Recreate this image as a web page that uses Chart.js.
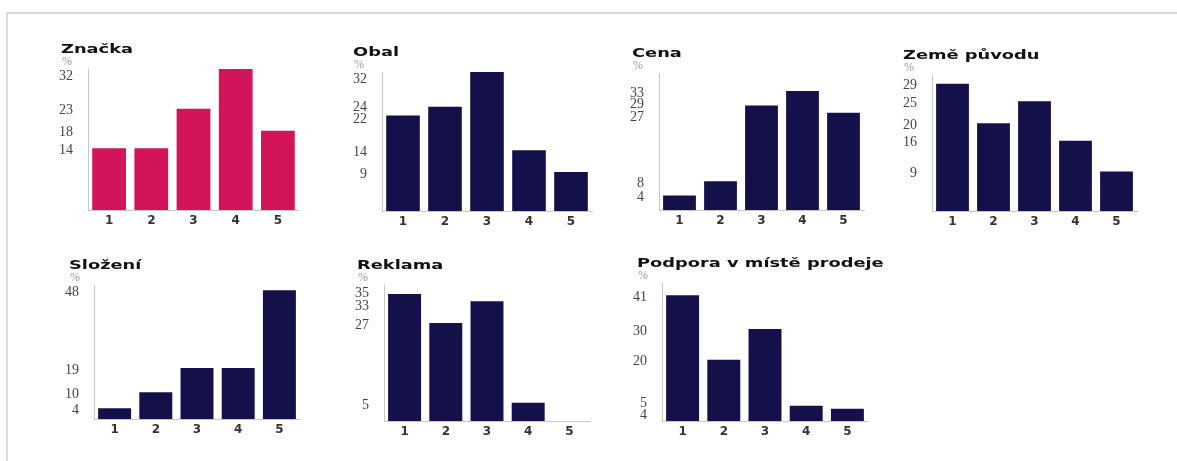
<!DOCTYPE html>
<html>
<head>
<meta charset="utf-8">
<script src="https://cdn.jsdelivr.net/npm/chart.js@4.4.1/dist/chart.umd.min.js"></script>
<style>
  body { margin: 0; background: #fff; }
  #frame {
    position: absolute; left: 6px; top: 12px; width: 1180px; height: 460px;
    border-top: 2px solid #d8d8d8; border-left: 2px solid #dcdcdc;
  }
  canvas { position: absolute; }
</style>
</head>
<body>
<div id="frame"></div>
<div id="charts"></div>
<script>
// answers 1-5 per question, in %
const categories = ['1', '2', '3', '4', '5']
const titles = ['Značka', 'Obal', 'Cena', 'Země původu', 'Složení', 'Reklama', 'Podpora v místě prodeje']
const znacka = [14, 14, 23, 32, 18]
const obal = [22, 24, 32, 14, 9]
const cena = [4, 8, 29, 33, 27]
const zemePuvodu = [29, 20, 25, 16, 9]
const slozeni = [4, 10, 19, 19, 48]
const reklama = [35, 27, 33, 5, 0]
const podpora = [41, 20, 30, 5, 4]
const series = [znacka, obal, cena, zemePuvodu, slozeni, reklama, podpora]
// top of each value axis
const yMax = [32, 32, 38, 31, 50, 37.5, 45]

const PINK = '#d4145a'
const NAVY = '#14114a'

// titleX, axisX, axisRight, axisTop, baseline
const boxes = [
  [61, 88, 299, 69, 210],
  [353, 382, 592, 72, 211],
  [632, 659, 864, 73, 210],
  [903, 932, 1137, 75, 211],
  [69, 94, 300, 285, 419],
  [357, 384, 590, 285, 421],
  [637, 662, 868, 283, 421],
]
const PAD_TOP = 32
const X_H = 26
const Y_W = 46
const GAP = 12.5

// y labels sit at the bar values, nudged apart where they would collide
function spreadTicks(values, max, plotH) {
  const k = plotH / max
  const vals = [...new Set(values)].filter(v => v > 0).sort((a, b) => b - a)
  const ys = vals.map(v => plotH - v * k)
  for (let i = 1; i < ys.length; i++) {
    const gap = ys[i] - ys[i - 1]
    if (gap < GAP) {
      const d = (GAP - gap) / 2
      ys[i - 1] -= d
      ys[i] += d
    }
  }
  if (ys[0] < 5) {
    ys[0] = 5
    for (let i = 1; i < ys.length; i++) {
      if (ys[i] - ys[i - 1] < GAP) ys[i] = Math.max(ys[i], ys[i - 1] + GAP)
    }
  }
  return vals.map((v, i) => ({ value: (plotH - ys[i]) / k, shown: String(v) }))
}

function headerPlugin(text, x) {
  return {
    id: 'header',
    afterDraw(chart) {
      const ctx = chart.ctx
      const top = chart.chartArea.top
      ctx.save()
      ctx.fillStyle = '#111'
      ctx.font = 'bold 13px "DejaVu Sans", sans-serif'
      ctx.textBaseline = 'alphabetic'
      ctx.translate(x, top - 16)
      ctx.scale(1.37, 1)
      ctx.fillText(text, 0, 0)
      ctx.restore()
      ctx.save()
      ctx.fillStyle = '#9a9a9a'
      ctx.font = '12px "Liberation Serif", serif'
      ctx.textBaseline = 'middle'
      ctx.fillText('%', x + 1, top - 7)
      ctx.restore()
    },
  }
}

const holder = document.getElementById('charts')

series.forEach((values, i) => {
  const [tx, ax, ar, at, bl] = boxes[i]
  const left = ax - Y_W
  const rightPad = Math.max(8, tx + 262 - ar)
  const canvas = document.createElement('canvas')
  canvas.width = ar - left + rightPad
  canvas.height = bl - at + PAD_TOP + X_H
  canvas.style.left = left + 'px'
  canvas.style.top = at - PAD_TOP + 'px'
  holder.appendChild(canvas)

  const yTicks = spreadTicks(values, yMax[i], bl - at)

  new Chart(canvas.getContext('2d'), {
    type: 'bar',
    data: {
      labels: categories,
      datasets: [
        {
          data: values,
          backgroundColor: i === 0 ? PINK : NAVY,
          borderWidth: 0,
          categoryPercentage: 1,
          barPercentage: 0.8,
        },
      ],
    },
    options: {
      responsive: false,
      devicePixelRatio: 1,
      animation: false,
      layout: { padding: { top: PAD_TOP, right: rightPad, left: 0, bottom: 0 } },
      plugins: {
        legend: { display: false },
        tooltip: { enabled: false },
      },
      scales: {
        x: {
          grid: { display: false, drawTicks: false },
          border: { color: '#c8c8c8' },
          ticks: {
            color: '#333',
            font: { family: '"DejaVu Sans", sans-serif', size: 12, weight: 'bold' },
            padding: 4,
            maxRotation: 0,
          },
          afterFit: s => { s.height = X_H },
        },
        y: {
          min: 0,
          max: yMax[i],
          bounds: 'data',
          grid: { display: false, drawTicks: false },
          border: { color: '#c8c8c8' },
          afterBuildTicks: s => { s.ticks = yTicks.map(t => ({ value: t.value, shown: t.shown })) },
          ticks: {
            autoSkip: false,
            color: '#444',
            font: { family: '"Liberation Serif", serif', size: 14 },
            padding: 15,
            labelOffset: 2,
            callback: (v, idx, ticks) => ticks[idx].shown,
          },
          afterFit: s => { s.width = Y_W },
        },
      },
    },
    plugins: [headerPlugin(titles[i], tx - left)],
  })
})
</script>
</body>
</html>
